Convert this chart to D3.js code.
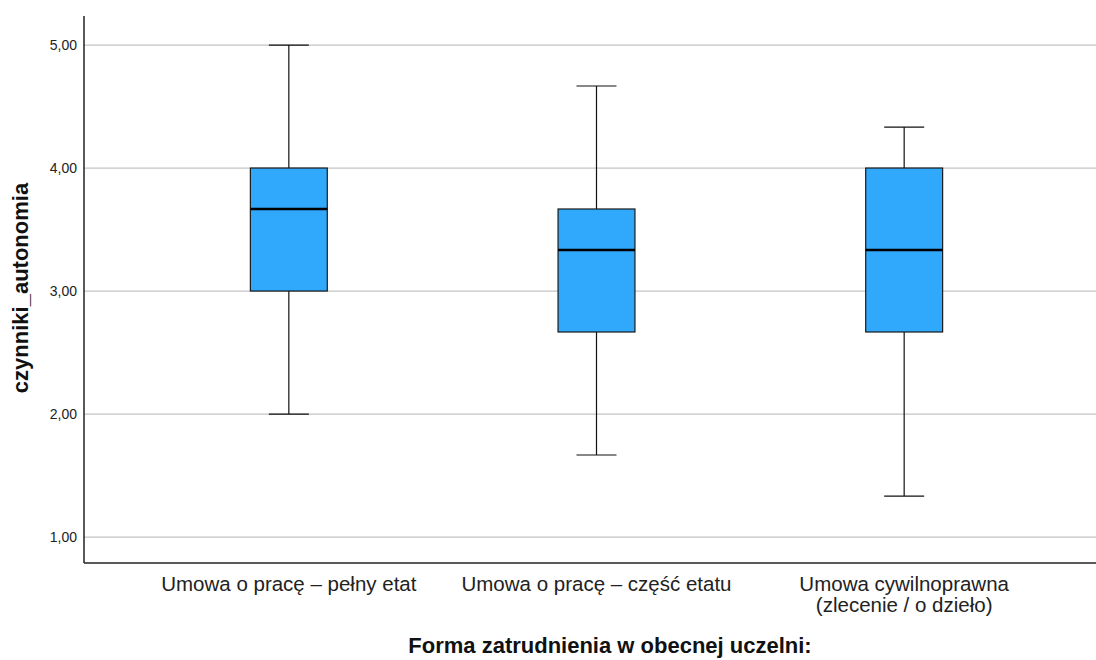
<!DOCTYPE html>
<html><head><meta charset="utf-8">
<script src="https://cdn.jsdelivr.net/npm/d3@7"></script>
<style>body{margin:0;background:#fff}svg{display:block}</style>
</head><body>
<svg id="c" width="1096" height="660"></svg>
<script>
const categories = [["Umowa o pracę – pełny etat"], ["Umowa o pracę – część etatu"], ["Umowa cywilnoprawna", "(zlecenie / o dzieło)"]];
const mins = [2.0, 1.667, 1.333];
const q1s = [3.0, 2.667, 2.667];
const medians = [3.667, 3.333, 3.333];
const q3s = [4.0, 3.667, 4.0];
const maxs = [5.0, 4.667, 4.333];
const yTicks = [1, 2, 3, 4, 5];
const yTitle = "czynniki_autonomia";
const xTitle = "Forma zatrudnienia w obecnej uczelni:";

const svg = d3.select("#c");
const L = 84, R = 1096, T = 16, B = 563;
const y = d3.scaleLinear().domain([0.789, 5.236]).range([B, T]);
const keys = categories.map((c, i) => i);
const x = d3.scaleBand().domain(keys).range([135, 1058]).padding(0);
const fmt = v => d3.format(".2f")(v).replace(".", ",");
const FF = "Liberation Sans, Arial, sans-serif";

// gridlines
svg.append("g").selectAll("line").data(yTicks).join("line")
  .attr("x1", L).attr("x2", R).attr("y1", d => y(d)).attr("y2", d => y(d))
  .attr("stroke", "#c4c4c4").attr("stroke-width", 1.2);

// y axis
const ya = svg.append("g").attr("transform", `translate(${L},0)`)
  .call(d3.axisLeft(y).tickValues(yTicks).tickFormat(fmt).tickSize(0).tickPadding(7));
ya.select(".domain").remove();
ya.selectAll("text").attr("font-family", FF).attr("font-size", 14).attr("fill", "#222");

// axes lines
svg.append("line").attr("x1", L).attr("x2", L).attr("y1", T).attr("y2", B).attr("stroke", "#222").attr("stroke-width", 1.5);
svg.append("line").attr("x1", L).attr("x2", R).attr("y1", B).attr("y2", B).attr("stroke", "#222").attr("stroke-width", 1.5);

const bw = x.bandwidth() * 0.25;
const cw = x.bandwidth() * 0.13;
const g = svg.append("g").selectAll("g").data(keys).join("g")
  .attr("transform", d => `translate(${x(d) + x.bandwidth() / 2},0)`);
// whiskers
g.append("line").attr("x1", 0).attr("x2", 0).attr("y1", d => y(maxs[d])).attr("y2", d => y(q3s[d])).attr("stroke", "#111").attr("stroke-width", 1.2);
g.append("line").attr("x1", 0).attr("x2", 0).attr("y1", d => y(q1s[d])).attr("y2", d => y(mins[d])).attr("stroke", "#111").attr("stroke-width", 1.2);
g.append("line").attr("x1", -cw / 2).attr("x2", cw / 2).attr("y1", d => y(maxs[d])).attr("y2", d => y(maxs[d])).attr("stroke", "#111").attr("stroke-width", 1.2);
g.append("line").attr("x1", -cw / 2).attr("x2", cw / 2).attr("y1", d => y(mins[d])).attr("y2", d => y(mins[d])).attr("stroke", "#111").attr("stroke-width", 1.2);
// box
g.append("rect").attr("x", -bw / 2).attr("width", bw)
  .attr("y", d => y(q3s[d])).attr("height", d => y(q1s[d]) - y(q3s[d]))
  .attr("fill", "#30a9fd").attr("stroke", "#1a1a1a").attr("stroke-width", 1.2);
g.append("line").attr("x1", -bw / 2).attr("x2", bw / 2).attr("y1", d => y(medians[d])).attr("y2", d => y(medians[d])).attr("stroke", "#000").attr("stroke-width", 2.5);

// x labels
const xl = svg.append("g").selectAll("text").data(keys).join("text")
  .attr("x", d => x(d) + x.bandwidth() / 2).attr("y", 591)
  .attr("text-anchor", "middle").attr("font-family", FF).attr("font-size", 20.5).attr("fill", "#222");
xl.selectAll("tspan").data(d => categories[d]).join("tspan")
  .attr("x", function () { return this.parentNode.getAttribute("x"); })
  .attr("dy", (d, i) => i ? 21 : 0).text(d => d);

svg.append("text").attr("x", 610).attr("y", 653).attr("text-anchor", "middle")
  .attr("font-family", FF).attr("font-size", 22).attr("font-weight", "bold").attr("fill", "#111").text(xTitle);
svg.append("text").attr("transform", "translate(28,288) rotate(-90)").attr("text-anchor", "middle")
  .attr("font-family", FF).attr("font-size", 22).attr("font-weight", "bold").attr("fill", "#111").text(yTitle);
</script>
</body></html>
